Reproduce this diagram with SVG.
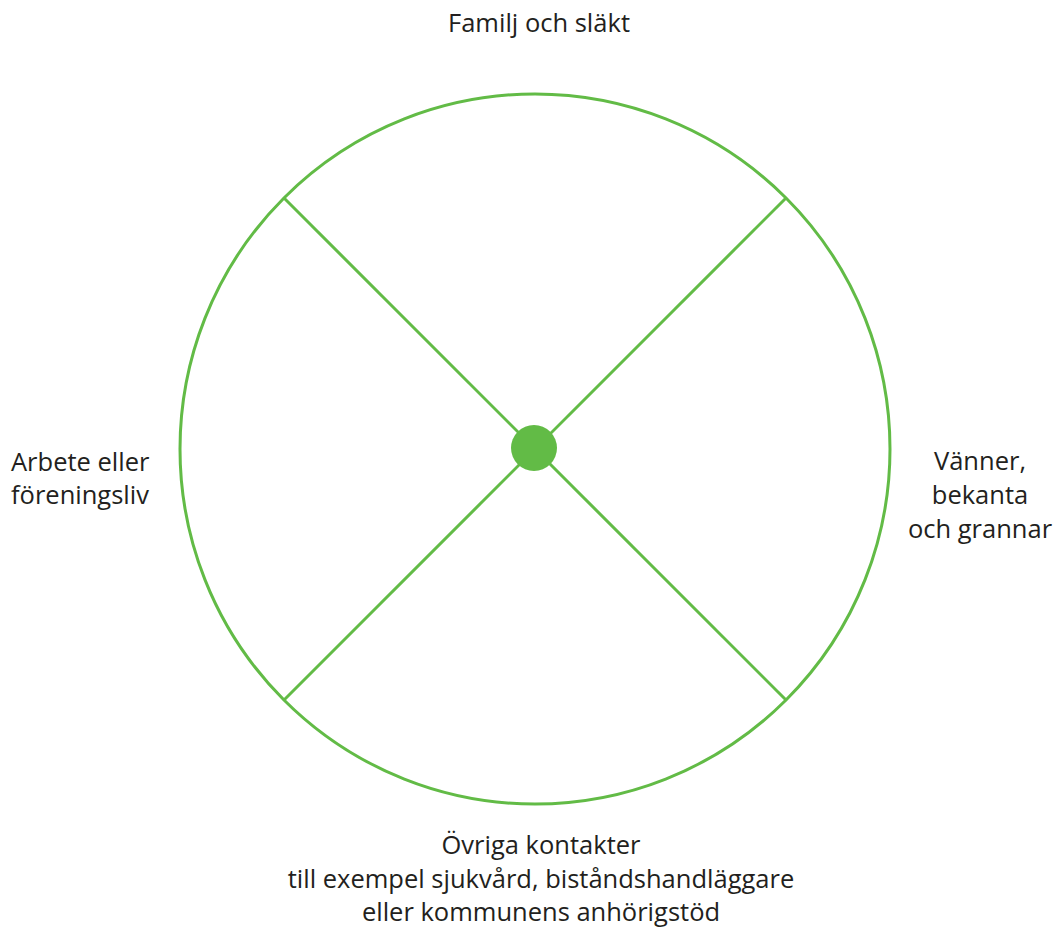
<svg xmlns="http://www.w3.org/2000/svg" width="1056" height="929" viewBox="0 0 1056 929">
<style>
.lbl{font-family:"Open Sans","Liberation Sans",sans-serif;font-size:25.5px;fill:#231f20}
.g{fill:none;stroke:#62bb46;stroke-width:3}
</style>
<rect width="1056" height="929" fill="#ffffff"/>
<g id="connectors">
<line class="g" x1="284" y1="198" x2="786" y2="700"/>
<line class="g" x1="786" y1="198" x2="284" y2="700"/>
</g>
<g id="circle"><circle class="g" cx="535" cy="449" r="355"/></g>
<g id="center"><circle cx="534" cy="448" r="23" fill="#62bb46"/></g>
<g id="top"><text class="lbl" x="539" y="32" text-anchor="middle">Familj och släkt</text></g>
<g id="left"><text class="lbl" x="11" y="471">Arbete eller</text><text class="lbl" x="11" y="504">föreningsliv</text></g>
<g id="right"><text class="lbl" text-anchor="middle"><tspan x="980" y="470">Vänner,</tspan><tspan x="980" y="504">bekanta</tspan><tspan x="980" y="538">och grannar</tspan></text></g>
<g id="bottom"><text class="lbl" text-anchor="middle"><tspan x="541" y="854">Övriga kontakter</tspan><tspan x="541" y="888">till exempel sjukvård, biståndshandläggare</tspan><tspan x="541" y="921">eller kommunens anhörigstöd</tspan></text></g>
</svg>
